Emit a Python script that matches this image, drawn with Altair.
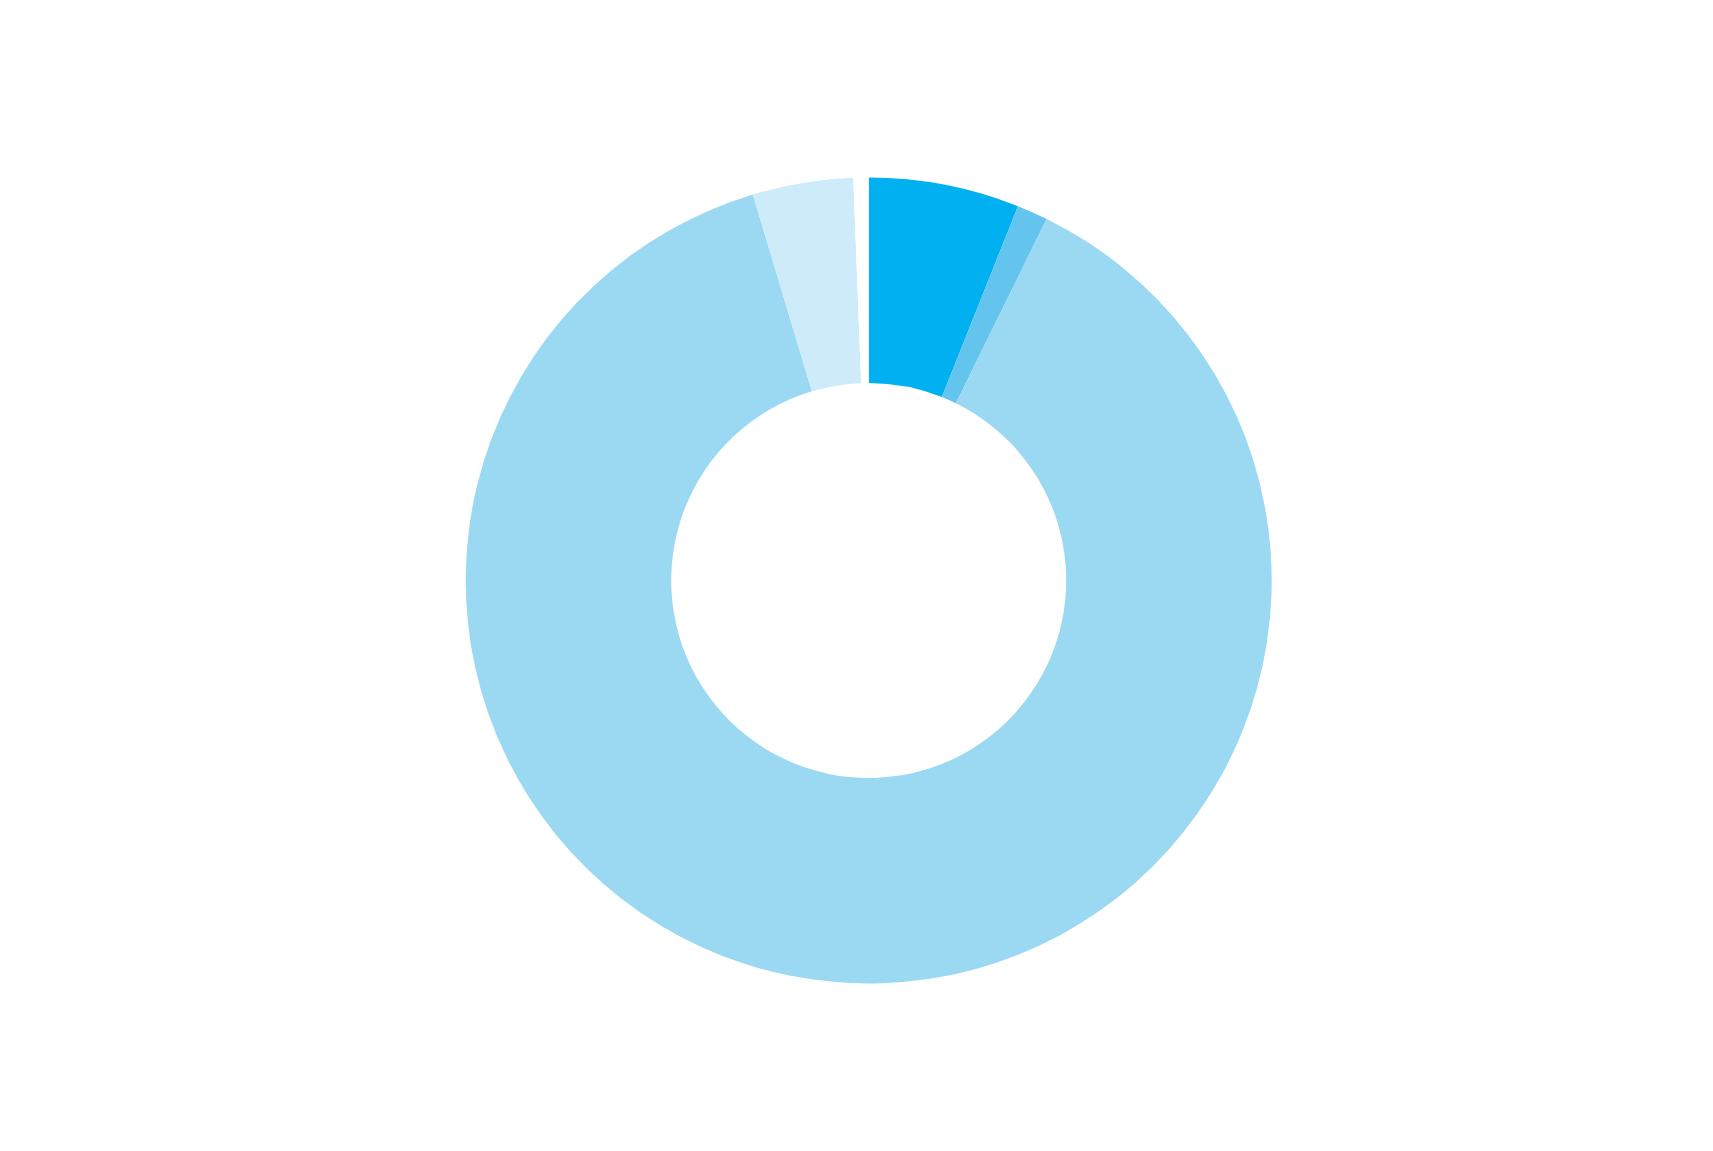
import altair as alt
import pandas as pd

categories = ["A", "B", "C", "D", "E"]
values = [6.04, 1.24, 88.08, 4.03, 0.61]
colors = ["#00B0F0", "#63C4EE", "#9BD9F3", "#CDEBF8", "#FFFFFF"]

df = pd.DataFrame({"category": categories, "value": values, "idx": list(range(len(categories)))})

chart = alt.Chart(df).mark_arc(radius=403, radius2=197.5, strokeWidth=0).encode(
    theta=alt.Theta("value:Q", stack=True),
    order=alt.Order("idx:Q"),
    color=alt.Color("category:N", scale=alt.Scale(domain=categories, range=colors), legend=None),
    x=alt.value(860.7),
    y=alt.value(572.5),
).properties(
    width=1697, height=1135, padding=0,
    autosize=alt.AutoSizeParams(type="none"),
).configure_view(stroke=None)

chart.save("out.html", embed_options={"renderer": "svg", "actions": False})
